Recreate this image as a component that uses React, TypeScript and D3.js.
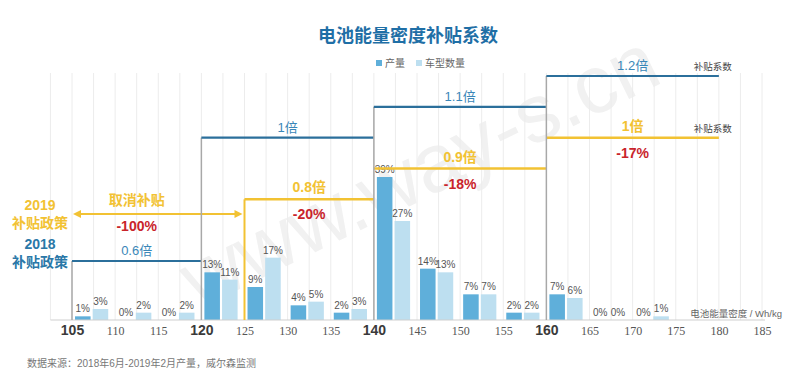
import { useEffect, useRef } from 'react';
import * as d3 from 'd3';

// 电池能量密度区间起点 (Wh/kg)，每个区间宽 5
const bins = [105, 110, 115, 120, 125, 130, 135, 140, 145, 150, 155, 160, 165, 170];
const outputShare = [1, 0, 0, 13, 9, 4, 2, 39, 14, 7, 2, 7, 0, 0];
const modelShare = [3, 2, 2, 11, 17, 5, 3, 27, 13, 7, 2, 6, 0, 1];
const seriesNames = ['产量', '车型数量'];

const xTicks = [105, 110, 115, 120, 125, 130, 135, 140, 145, 150, 155, 160, 165, 170, 175, 180, 185];
const majorTicks = [105, 120, 140, 160];

// 2018 补贴政策
const start2018 = [105, 120, 140, 160];
const end2018 = [120, 140, 160, 180];
const coef2018 = [0.6, 1, 1.1, 1.2];

// 2019 补贴政策
const cancel2019 = [105, 125];
const start2019 = [125, 140, 160];
const end2019 = [140, 160, 180];
const coef2019 = [0.8, 0.9, 1];
const change2019 = ['-20%', '-18%', '-17%'];

const FONT = "'Liberation Sans', 'Noto Sans CJK SC', sans-serif";
const DARK = '#5fafda';
const LIGHT = '#bddff0';
const BLUE = '#2b6f9b';
const BLUE_TXT = '#3a87b8';
const YELLOW = '#f2c233';
const RED = '#c9242b';

export default function App() {
  const ref = useRef<SVGSVGElement>(null);

  useEffect(() => {
    if (!ref.current) return;
    const svg = d3.select(ref.current);
    svg.selectAll('*').remove();

    const x = d3.scaleLinear().domain([105, 185]).range([72, 762]);
    const y = d3.scaleLinear().domain([0, 39]).range([320, 177]);
    const k = d3.scaleLinear().domain([0.6, 1.2]).range([261, 76]);
    const color = d3.scaleOrdinal<string>().domain(seriesNames).range([DARK, LIGHT]);

    // watermark
    svg.append('text')
      .attr('transform', 'translate(422,176) rotate(-26)')
      .attr('text-anchor', 'middle')
      .attr('dominant-baseline', 'middle')
      .style('font-family', FONT)
      .style('font-size', '82px')
      .style('fill', '#f1f1f1')
      .text('www.way-s.cn');

    // grid
    svg.append('g')
      .selectAll('line')
      .data(d3.range(102.5, 185.1, 2.5))
      .join('line')
      .attr('x1', d => x(d)).attr('x2', d => x(d))
      .attr('y1', 73).attr('y2', y(0))
      .attr('stroke', '#ececec')
      .attr('stroke-width', 1);

    // title
    svg.append('text')
      .attr('x', 408).attr('y', 42)
      .attr('text-anchor', 'middle')
      .style('font-family', FONT)
      .style('font-size', '18px')
      .style('font-weight', 'bold')
      .style('fill', '#1f6fa6')
      .text('电池能量密度补贴系数');

    // legend
    const legend = svg.append('g').attr('transform', 'translate(376,63)');
    seriesNames.forEach((name, i) => {
      const g = legend.append('g').attr('transform', `translate(${i * 40},0)`);
      g.append('rect').attr('x', 0).attr('y', -3).attr('width', 6).attr('height', 6).attr('fill', color(name));
      g.append('text')
        .attr('x', 9).attr('y', 4)
        .style('font-family', FONT).style('font-size', '10px').style('fill', '#666')
        .text(name);
    });

    // bars
    const rows = bins.map((b, i) => ({ bin: b, values: [outputShare[i], modelShare[i]] }));
    rows.forEach(row => {
      const inner = d3.scaleBand()
        .domain(seriesNames)
        .range([x(row.bin + 0.35), x(row.bin + 4.2)])
        .paddingInner(0.12);
      const g = svg.append('g');
      g.selectAll('rect')
        .data(row.values)
        .join('rect')
        .attr('x', (d, j) => inner(seriesNames[j])!)
        .attr('width', inner.bandwidth())
        .attr('y', d => y(d))
        .attr('height', d => y(0) - y(d))
        .attr('fill', (d, j) => color(seriesNames[j]));
      g.selectAll('text')
        .data(row.values)
        .join('text')
        .attr('x', (d, j) => inner(seriesNames[j])! + inner.bandwidth() / 2)
        .attr('y', d => y(d) - 4)
        .attr('text-anchor', 'middle')
        .style('font-family', FONT)
        .style('font-size', '10px')
        .style('fill', '#555')
        .text(d => `${d}%`);
    });

    // x axis
    svg.append('line')
      .attr('x1', x(102.5)).attr('x2', x(185) + 3)
      .attr('y1', y(0)).attr('y2', y(0))
      .attr('stroke', '#cfcfcf');
    const axis = svg.append('g')
      .attr('transform', `translate(0,${y(0)})`)
      .call(d3.axisBottom(x).tickValues(xTicks).tickSize(0).tickFormat(d => String(d)));
    axis.select('.domain').remove();
    axis.selectAll<SVGTextElement, number>('text')
      .attr('y', 15).attr('dy', 0)
      .style('font-family', d => majorTicks.includes(d) ? FONT : "'Liberation Serif', serif")
      .style('font-size', d => majorTicks.includes(d) ? '14px' : '12px')
      .style('font-weight', d => majorTicks.includes(d) ? 'bold' : 'normal')
      .style('fill', d => majorTicks.includes(d) ? '#3a3a3a' : '#555');

    svg.append('text')
      .attr('x', 782).attr('y', 317)
      .attr('text-anchor', 'end')
      .style('font-family', FONT).style('font-size', '9.5px').style('fill', '#666')
      .text('电池能量密度 / Wh/kg');

    // 2019 policy (yellow)
    svg.append('line')
      .attr('x1', x(start2019[0])).attr('x2', x(start2019[0]))
      .attr('y1', y(0)).attr('y2', k(coef2019[0]))
      .attr('stroke', YELLOW).attr('stroke-width', 2);
    start2019.forEach((s, i) => {
      const ly = k(coef2019[i]);
      const mx = x((s + end2019[i]) / 2);
      svg.append('line')
        .attr('x1', x(s)).attr('x2', x(end2019[i]))
        .attr('y1', ly).attr('y2', ly)
        .attr('stroke', YELLOW).attr('stroke-width', 2.5);
      svg.append('text')
        .attr('x', mx).attr('y', ly - 7)
        .attr('text-anchor', 'middle')
        .style('font-family', FONT).style('font-size', '14px').style('font-weight', 'bold')
        .style('fill', YELLOW)
        .text(`${coef2019[i]}倍`);
      svg.append('text')
        .attr('x', mx).attr('y', ly + 20)
        .attr('text-anchor', 'middle')
        .style('font-family', FONT).style('font-size', '14px').style('font-weight', 'bold')
        .style('fill', RED)
        .text(change2019[i]);
    });

    // cancelled range arrow
    const ay = k(coef2018[0]) - 47;
    const ax0 = x(cancel2019[0]) + 1;
    const ax1 = x(cancel2019[1]) - 2;
    svg.append('line')
      .attr('x1', ax0 + 6).attr('x2', ax1 - 6)
      .attr('y1', ay).attr('y2', ay)
      .attr('stroke', YELLOW).attr('stroke-width', 2);
    svg.append('path')
      .attr('d', `M${ax0},${ay}L${ax0 + 8},${ay - 4}L${ax0 + 8},${ay + 4}Z`)
      .attr('fill', YELLOW);
    svg.append('path')
      .attr('d', `M${ax1},${ay}L${ax1 - 8},${ay - 4}L${ax1 - 8},${ay + 4}Z`)
      .attr('fill', YELLOW);
    const cx = x((start2018[0] + end2018[0]) / 2);
    svg.append('text')
      .attr('x', cx).attr('y', ay - 9)
      .attr('text-anchor', 'middle')
      .style('font-family', FONT).style('font-size', '14px').style('font-weight', 'bold')
      .style('fill', YELLOW)
      .text('取消补贴');
    svg.append('text')
      .attr('x', cx).attr('y', ay + 17)
      .attr('text-anchor', 'middle')
      .style('font-family', FONT).style('font-size', '14px').style('font-weight', 'bold')
      .style('fill', RED)
      .text('-100%');

    // 2018 policy (blue) with grey risers
    start2018.forEach((s, i) => {
      const ly = k(coef2018[i]);
      svg.append('line')
        .attr('x1', x(s)).attr('x2', x(s))
        .attr('y1', y(0)).attr('y2', ly)
        .attr('stroke', '#a8a8a8').attr('stroke-width', 1.5);
      svg.append('line')
        .attr('x1', x(s)).attr('x2', x(end2018[i]))
        .attr('y1', ly).attr('y2', ly)
        .attr('stroke', BLUE).attr('stroke-width', 2.2);
      svg.append('text')
        .attr('x', x((s + end2018[i]) / 2)).attr('y', ly - 6)
        .attr('text-anchor', 'middle')
        .style('font-family', FONT).style('font-size', '13px')
        .style('fill', BLUE_TXT)
        .text(`${coef2018[i]}倍`);
    });

    // 补贴系数 tags at line ends
    [k(coef2018[coef2018.length - 1]), k(coef2019[coef2019.length - 1])].forEach(ly => {
      svg.append('text')
        .attr('x', x(180) + 13).attr('y', ly - 6)
        .attr('text-anchor', 'end')
        .style('font-family', FONT).style('font-size', '9.5px').style('fill', '#444')
        .text('补贴系数');
    });

    // left policy labels
    const left = [
      { t: '2019', yy: 210, c: YELLOW },
      { t: '补贴政策', yy: 228, c: YELLOW },
      { t: '2018', yy: 249, c: '#2a78a8' },
      { t: '补贴政策', yy: 267, c: '#2a78a8' },
    ];
    left.forEach(l => {
      svg.append('text')
        .attr('x', 40).attr('y', l.yy)
        .attr('text-anchor', 'middle')
        .style('font-family', FONT).style('font-size', '14px').style('font-weight', 'bold')
        .style('fill', l.c)
        .text(l.t);
    });

    // source
    svg.append('text')
      .attr('x', 27).attr('y', 367)
      .style('font-family', FONT).style('font-size', '10px').style('fill', '#777')
      .text('数据来源：2018年6月-2019年2月产量，威尔森监测');
  }, []);

  return (
    <svg
      ref={ref}
      width={800}
      height={374}
      style={{ position: 'fixed', left: 0, top: 0, background: '#fff' }}
    />
  );
}
